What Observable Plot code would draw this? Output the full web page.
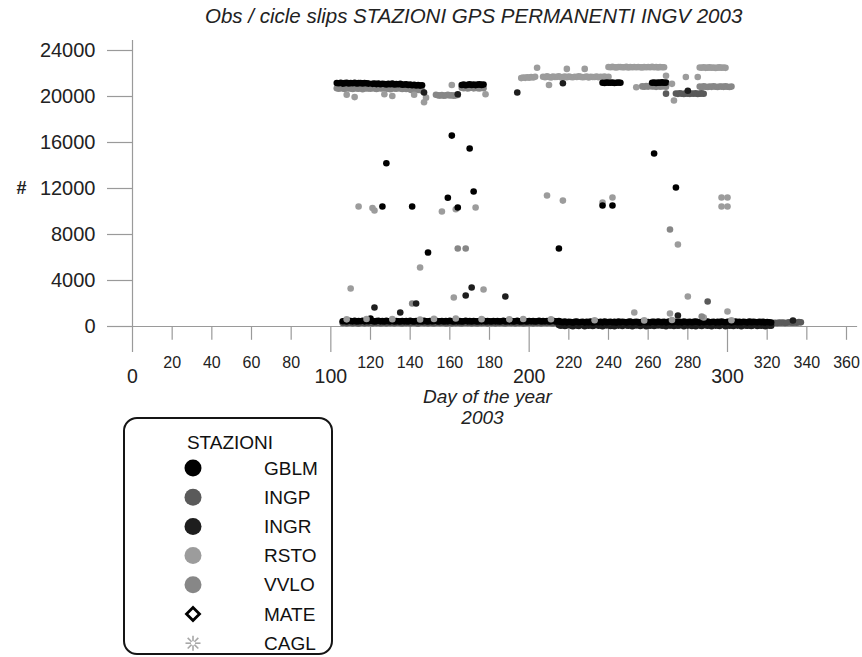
<!DOCTYPE html>
<html>
<head>
<meta charset="utf-8">
<script src="https://cdn.jsdelivr.net/npm/d3@7"></script>
<script src="https://cdn.jsdelivr.net/npm/@observablehq/plot@0.6"></script>
<style>
  body { margin: 0; background: #fff; font-family: "Liberation Sans", Arial, sans-serif; }
  #wrap { position: relative; width: 862px; height: 657px; overflow: hidden; background: #fff; }
  #title { position: absolute; left: 205px; top: 4px; font-size: 20.5px; font-style: italic; color: #222; white-space: nowrap; }
  #chart { position: absolute; left: 0; top: 30px; }
  #legend { position: absolute; left: 123px; top: 417px; width: 206px; height: 234px; border: 2px solid #151515; border-radius: 14px; background: #fff; }
</style>
</head>
<body>
<div id="wrap">
  <div id="title"></div>
  <div id="chart"></div>
  <div id="legend"></div>
</div>
<script>
// ---------------- DATA ----------------
const titleText = "Obs / cicle slips STAZIONI GPS PERMANENTI INGV 2003";
const xLabel = "Day of the year";
const xLabel2 = "2003";
const yLabel = "#";
const legendTitle = "STAZIONI";

const stations = ["GBLM", "INGP", "INGR", "RSTO", "VVLO", "MATE", "CAGL"];
const stationColors = ["#000000", "#5a5a5a", "#1e1e1e", "#9c9c9c", "#878787", "#000000", "#a8a8a8"];

const yTicks = [0, 4000, 8000, 12000, 16000, 20000, 24000];
const xMinorTicks = [20, 40, 60, 80, 120, 140, 160, 180, 220, 240, 260, 280, 320, 340, 360];
const xMajorTicks = [0, 100, 200, 300];

// low band (cycle-slip level), one value per day from the start day
const gblmLowStart = 106;
const gblmLow = [
  460,480,440,500,470,450,490,430,470,460,
  500,450,480,460,700,480,440,470,500,450,
  470,430,490,460,450,500,440,470,460,430,
  480,450,470,440,500,460,430,480,450,470,
  440,490,460,430,480,450,470,500,440,460,
  480,430,470,450,490,460,440,480,450,470,
  430,460,500,450,470,440,480,460,430,470,
  450,490,440,470,460,430,480,450,470,440,
  460,500,430,470,450,480,440,460,490,450,
  430,470,460,440,480,450,470,430,460,500,
  440,470,450,480,430,460,490,450,440,470,
  400,380,420,360,410,390,350,400,420,370,
  390,410,360,400,380,420,350,390,410,370,
  400,360,420,380,390,410,370,400,350,420,
  380,410,390,360,400,420,370,390,410,380,
  350,400,420,380,390,360,410,400,370,420,
  390,380,410,360,400,420,370,390,410,380,
  400,360,420,390,380,410,370,400,430,390,
  360,410,380,400,420,370,390,410,360,400,
  380,420,390,370,410,400,360,390,420,380,
  400,370,410,390,360,420,380,400,390,370,
  410,380,400,360,390,370,350
];
const ingpLowStart = 106;
const ingpLow = [
  300,340,280,320,360,290,330,310,270,350,
  320,290,340,300,360,280,330,310,350,290,
  310,350,280,330,300,340,290,320,360,300,
  280,330,310,350,290,320,340,300,270,330,
  350,300,320,280,340,310,290,330,360,300,
  320,340,290,310,350,280,330,300,340,310,
  290,330,350,300,320,280,340,310,290,350,
  300,320,340,280,330,310,350,290,320,300,
  340,310,280,330,350,300,320,290,340,310,
  330,290,310,350,300,340,280,320,310,330,
  290,340,320,300,350,310,280,330,340,300,
  250,220,270,240,200,260,230,280,210,250,
  240,270,220,260,230,250,200,270,240,220,
  260,230,250,280,210,240,270,220,250,230,
  270,240,210,260,230,280,250,220,240,260,
  230,250,270,220,260,240,200,250,270,230,
  250,220,260,240,280,230,250,210,260,240,
  220,260,240,270,230,250,280,220,240,260,
  240,230,270,250,210,260,240,280,230,250,
  260,240,220,270,250,230,260,210,240,270,
  230,250,270,240,220,260,230,250,240,210,
  250,230,260,220,240,270,250,300,330,310,
  340,320,350,310,330,360,340,320,350,330,
  380,360
];
const vvloLowStart = 106;
const vvloLow = [
  400,380,420,360,440,390,410,370,430,400,
  380,420,390,450,400,370,430,410,380,420,
  390,440,400,370,420,380,410,450,390,400,
  430,370,410,390,440,400,380,420,360,410,
  390,430,400,370,420,440,380,410,390,430,
  400,370,420,450,390,410,380,430,400,370,
  420,390,440,400,380,410,430,370,400,420,
  380,410,390,440,400,370,420,390,430,400,
  410,380,420,390,440,400,370,410,390,430,
  400,420,380,410,370,440,390,420,400,380,
  430,390,410,380,420,400,440,370,410,390,
  320,290,340,300,270,330,310,280,350,300,
  310,280,330,300,350,290,320,270,340,310,
  290,330,300,350,280,320,310,340,290,300,
  330,300,280,340,310,290,350,320,300,280,
  310,340,290,320,300,280,330,350,300,310,
  290,320,340,300,280,330,310,290,350,300,
  320,290,330,310,340,280,300,320,290,330,
  300,340,310,290,320,280,330,300,310,290,
  320,300,340,310,290
];
const ingrLowStart = 215;
const ingrLow = [
  120,60,150,40,100,170,80,30,140,90,
  50,160,110,20,130,70,180,40,100,150,
  60,120,30,170,90,140,50,110,20,160,
  80,130,40,150,100,60,170,30,120,90,
  140,50,110,160,20,100,70,180,40,130,
  90,150,60,120,30,170,80,110,40,140,
  60,100,160,30,130,80,150,50,120,20,
  170,90,40,140,110,60,130,30,150,80,
  100,50,160,120,30,140,70,110,40,170,
  80,130,20,150,90,60,120,40,100,160,
  50,110,70,140,30,120,80,60
];

// observation level, segments of consecutive days: [start day, values]
const gblmHighSegments = [
  [103, [21180,21150,21200,21120,21160,21190,21140,21170,21150,21200,21130,21160,21180,21140,21170,21150,21120]],
  [121, [21100,21130,21080,21120,21060,21110,21090,21050,21100,21070,21120,21040,21080,21060,21100,21020,21050,21070,21000,21040,20980,21020,20960,21000,20950,20980]],
  [166, [21000,21050,20980,21020,21060,21000,21040,20990,21030,21070,21010,21050]],
  [237, [21200,21180,21220,21200,21190,21210,21180,21200,21220,21190]],
  [262, [21200,21220,21180,21210,21200,21230,21190,21210]]
];
const vvloHighSegments = [
  [103, [20720,20680,20750,20700,20660,20740,20690,20710,20650,20730,
         20700,20680,20760,20640,20720,20690,20710,20670,20740,20700,
         20660,20730,20690,20710,20750,20680,20700,20640,20720,20690,
         20670,20740,20700,20660,20720,20650,20690,20600,20540,20480,
         20620,20560,20700,20500]],
  [153, [20150,20100,20080,20120,20060,20100,20140,20090,20110,20070,20100,20130]],
  [166, [20760,20720,20780,20700,20740,20770,20710,20750,20730,20690,20760,20720]],
  [257, [20880,20850,20900,20860,20920,20870,20890,20840,20900,20860,20880,20910,20850]],
  [286, [20860,20830,20880,20850,20820,20870,20840,20890,20850,20830,20870,20860,20840,20880,20850,20820,20860]]
];
const rstoHighSegments = [
  [196, [21600,21650,21620,21680,21640,21700,21660,21720]],
  [207, [21720,21680,21750,21700,21660,21740,21690,21710,21760,21680,
         21700,21730,21670,21740,21700,21680,21720,21690,21750,21710,
         21680,21700,21740,21660,21720,21700,21690,21730,21670,21710,
         21700,21740,21680,21720]],
  [240, [22560,22540,22580,22550,22530,22570,22560,22540,22550,22580,
         22530,22560,22550,22570,22540,22560,22550,22530,22570,22550,
         22560,22540,22580,22550,22560,22530,22570,22550,22540]],
  [286, [22520,22500,22540,22490,22510,22530,22500,22520,22480,22510,22530,22500,22520,22490]]
];
const ingpHighSegments = [
  [274, [20260,20230,20280,20240,20220,20270,20250,20230,20260,20240,20280,20220,20250,20270,20240]]
];

// isolated points: [day, value]
const gblmPoints = [[128,14200],[161,16600],[170,15480],[263,15040],[274,12090],[172,11740],[159,11200],
  [126,10430],[141,10430],[149,6430],[164,10350],[215,6780],[237,10520],[242,10520]];
const ingrPoints = [[147,20350],[164,20200],[194,20350],[217,21150],[280,20500],
  [122,1650],[135,1220],[143,2000],[171,3390],[168,2700],[188,2610],[275,960],[333,520]];
const ingpPoints = [[269,20250],[290,2170]];
const rstoPoints = [[108,20150],[112,19950],[127,20200],[131,20050],[142,20150],[147,19500],[148,19900],
  [161,21000],[178,20200],[204,22500],[210,21000],[219,22400],[228,22400],[254,20800],[269,21800],
  [272,21100],[273,19650],[279,21700],[285,21700],
  [114,10430],[121,10300],[122,10090],[156,10000],[163,10200],[173,10350],[217,10950],[237,10780],
  [297,10430],[300,10430],[209,11390],[242,11220],[297,11220],[300,11220],[275,7130],[110,3300],
  [145,5130],[162,2520],[177,3220],[280,2610],[253,1220],[271,1130],[300,1300],
  [108,620],[118,650],[131,640],[145,610],[152,660],[163,700],[176,640],[190,620],[197,650],
  [211,630],[233,540],[258,530],[272,560],[288,780],[302,540]];
const vvloPoints = [[164,6780],[168,6780],[271,8430],[141,2000],[287,870]];

// ---------------- BUILD TABLE ----------------
const rows = [];
function addLow(station, start, values) {
  values.forEach((v, i) => rows.push({station, day: start + i, value: v}));
}
function addSegments(station, segs) {
  segs.forEach(([start, values]) => values.forEach((v, i) => rows.push({station, day: start + i, value: v})));
}
function addPoints(station, pts) {
  pts.forEach(([d, v]) => rows.push({station, day: d, value: v}));
}
addLow("VVLO", vvloLowStart, vvloLow);
addLow("INGP", ingpLowStart, ingpLow);
addLow("INGR", ingrLowStart, ingrLow);
addLow("GBLM", gblmLowStart, gblmLow);
addSegments("RSTO", rstoHighSegments);
addSegments("VVLO", vvloHighSegments);
addSegments("INGP", ingpHighSegments);
addSegments("GBLM", gblmHighSegments);
addPoints("RSTO", rstoPoints);
addPoints("VVLO", vvloPoints);
addPoints("INGP", ingpPoints);
addPoints("INGR", ingrPoints);
addPoints("GBLM", gblmPoints);

// ---------------- LAYOUT ----------------
const axisGrey = "#9a9a9a";
const textCol = "#222";
const xAxisFrom = -12.6, xAxisTo = 365.6;   // extent of the x axis line (in days)
const yAxisFrom = -2260, yAxisTo = 24870;   // extent of the y axis line (in values)
const minorTickEnd = -1200, majorTickEnd = -2260;

const chart = Plot.plot({
  width: 862,
  height: 410,
  marginLeft: 132,
  marginRight: 16,
  marginTop: 20,
  marginBottom: 114,
  x: {domain: [0, 360], axis: null},
  y: {domain: [0, 24000]},
  color: {type: "ordinal", domain: stations, range: stationColors},
  style: {fontFamily: "'Liberation Sans', Arial, sans-serif", background: "transparent", overflow: "visible", color: textCol},
  marks: [
    Plot.ruleY([0], {x1: xAxisFrom, x2: xAxisTo, stroke: axisGrey, strokeWidth: 1.2}),
    Plot.ruleX([0], {y1: yAxisFrom, y2: yAxisTo, stroke: axisGrey, strokeWidth: 1.2}),
    Plot.ruleX(xMinorTicks, {x: d => d, y1: 0, y2: minorTickEnd, stroke: axisGrey, strokeWidth: 1.2}),
    Plot.ruleX(xMajorTicks.filter(d => d > 0), {x: d => d, y1: 0, y2: majorTickEnd, stroke: axisGrey, strokeWidth: 1.2}),
    Plot.text(xMinorTicks, {x: d => d, y: 0, text: d => String(d), dy: 36, fontSize: 16, fill: textCol}),
    Plot.text(xMajorTicks, {x: d => d, y: 0, text: d => String(d), dy: 50, fontSize: 19.5, fill: textCol}),
    Plot.axisY({ticks: yTicks, tickSize: 25, tickPadding: 12, fontSize: 20, tickFormat: d3.format("d"), label: null, stroke: axisGrey, strokeWidth: 1.2, fill: textCol}),
    Plot.text([yLabel], {text: d => d, frameAnchor: "left", dx: -111, textAnchor: "middle", fontSize: 18, fontWeight: "bold", fill: textCol}),
    Plot.text([xLabel], {text: d => d, frameAnchor: "bottom", dx: -2, dy: 76, fontSize: 19, fontStyle: "italic", fill: textCol}),
    Plot.text([xLabel2], {text: d => d, frameAnchor: "bottom", dx: -7, dy: 97, fontSize: 19, fontStyle: "italic", fill: textCol}),
    Plot.dot(rows, {x: "day", y: "value", fill: "station", r: 3.3, stroke: "none"})
  ]
});
document.getElementById("chart").appendChild(chart);
document.getElementById("title").textContent = titleText;

// ---------------- LEGEND ----------------
const lg = d3.select("#legend").append("svg").attr("width", 206).attr("height", 234)
  .style("font-family", "'Liberation Sans', Arial, sans-serif");
lg.append("text").attr("x", 105).attr("y", 23).attr("text-anchor", "middle").attr("dominant-baseline", "central")
  .attr("font-size", 19).attr("fill", "#111").text(legendTitle);
const rowY = i => 49 + i * 29.2;
stations.forEach((s, i) => {
  const g = lg.append("g").attr("transform", `translate(68,${rowY(i)})`);
  if (s === "MATE") {
    g.append("path").attr("d", "M0,-6.5L6.5,0L0,6.5L-6.5,0Z").attr("fill", "#fff").attr("stroke", stationColors[i]).attr("stroke-width", 2.8);
  } else if (s === "CAGL") {
    for (let k = 0; k < 8; k++) {
      const a = k * Math.PI / 4;
      g.append("line").attr("x1", 2 * Math.cos(a)).attr("y1", 2 * Math.sin(a))
        .attr("x2", 7.5 * Math.cos(a)).attr("y2", 7.5 * Math.sin(a))
        .attr("stroke", stationColors[i]).attr("stroke-width", 1.6);
    }
  } else {
    g.append("circle").attr("r", 8.5).attr("fill", stationColors[i]);
  }
  lg.append("text").attr("x", 139).attr("y", rowY(i)).attr("dominant-baseline", "central")
    .attr("font-size", 19).attr("fill", "#111").text(s);
});
</script>
</body>
</html>
